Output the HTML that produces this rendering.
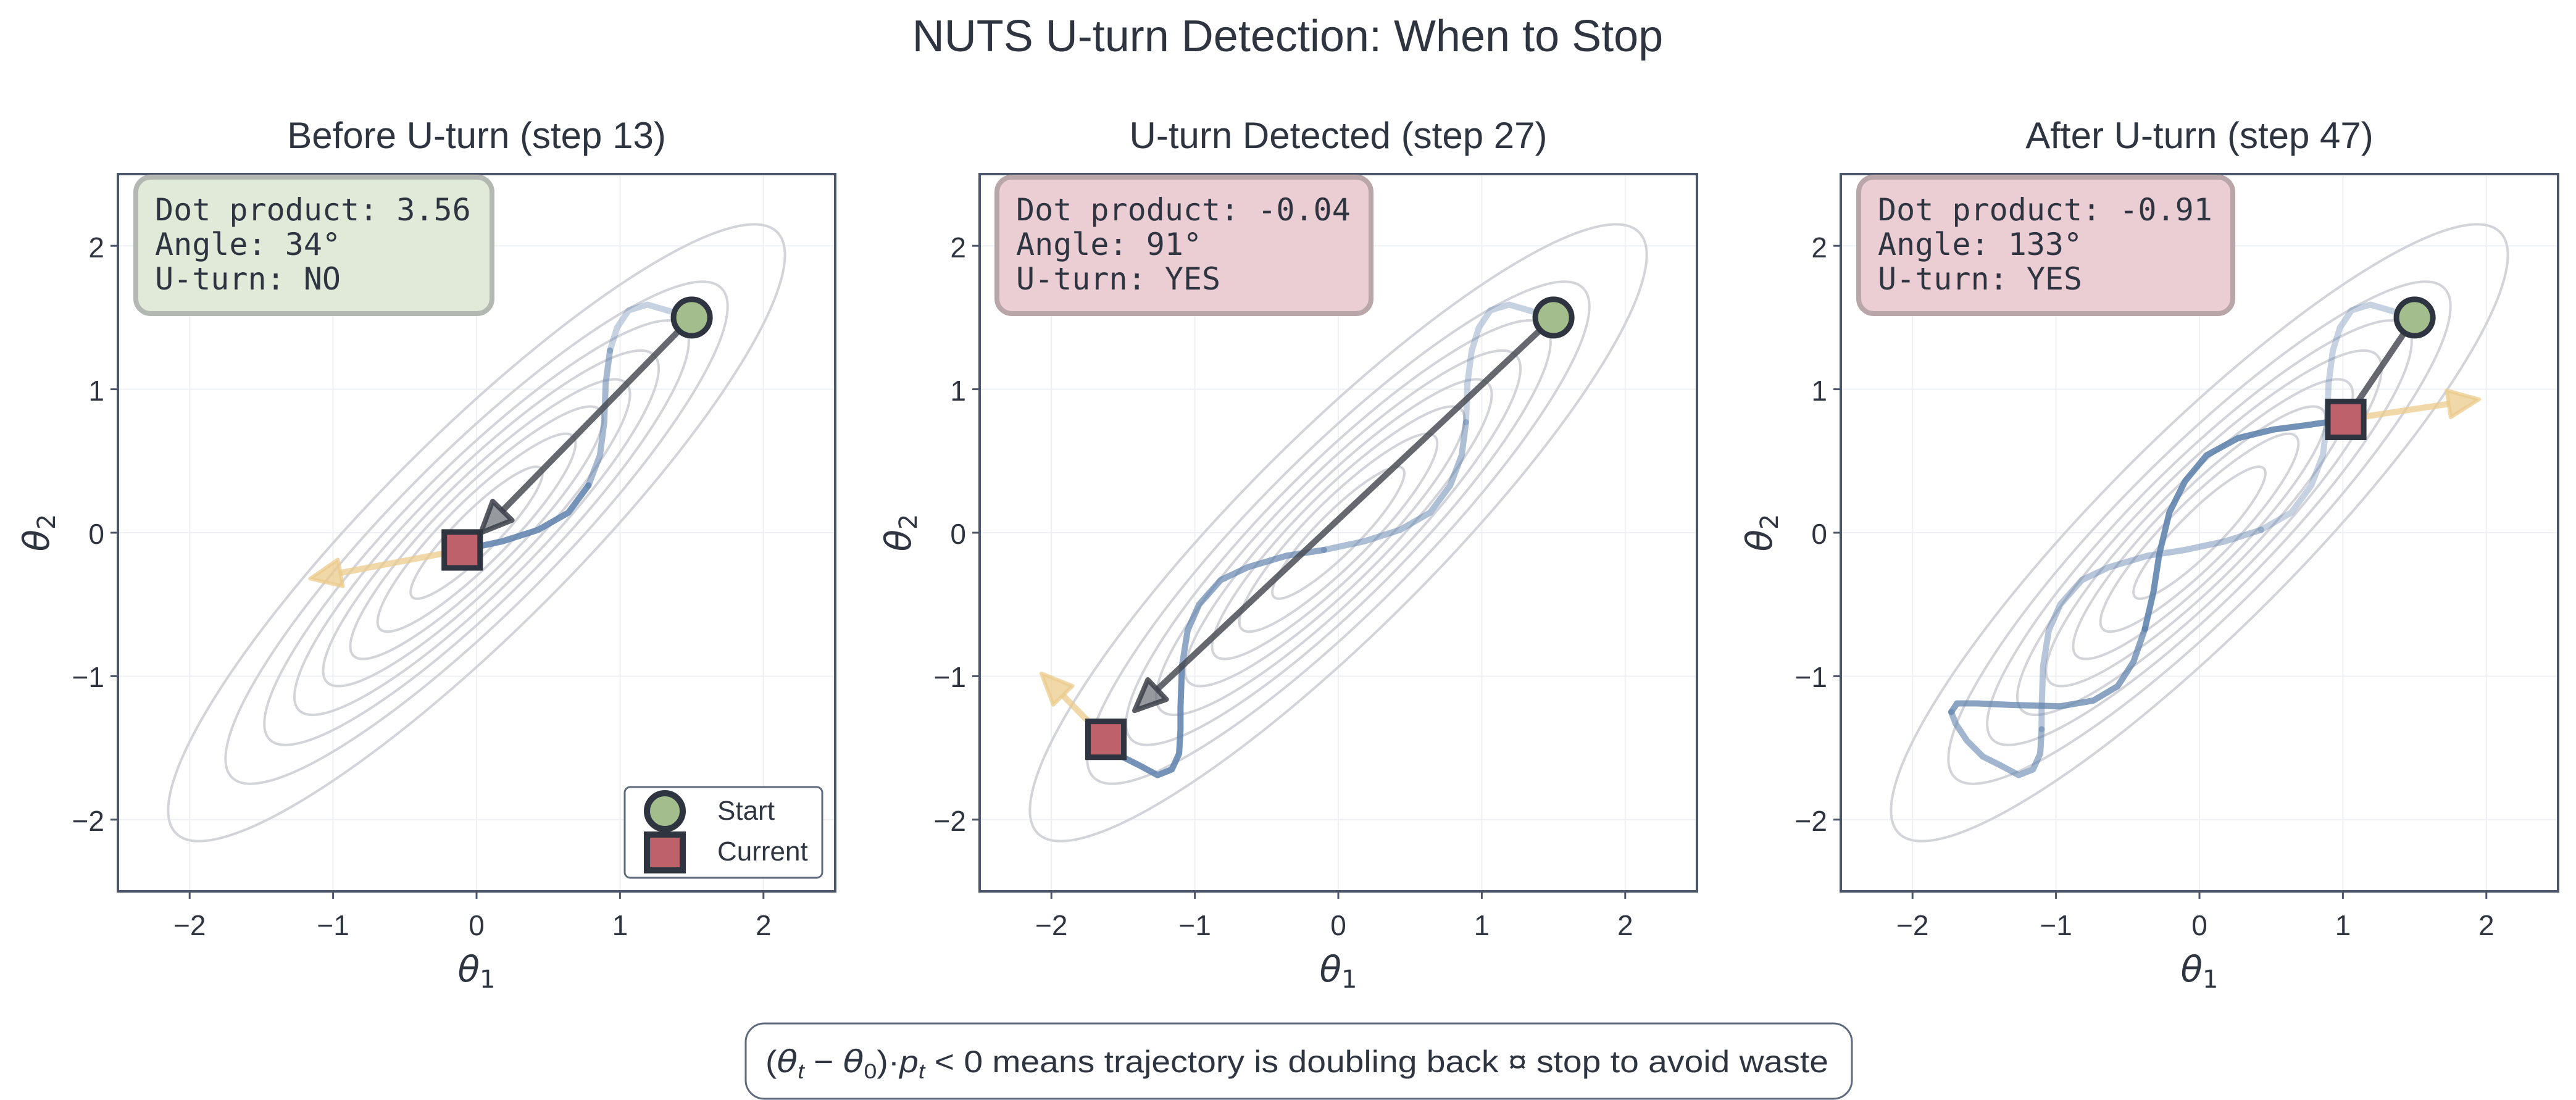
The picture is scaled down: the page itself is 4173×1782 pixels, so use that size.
<!DOCTYPE html>
<html><head><meta charset="utf-8"><style>
html,body{margin:0;padding:0;background:#fff;}
svg{display:block;}
text{font-family:"Liberation Sans","DejaVu Sans",sans-serif;fill:#2e3440;}
.mono{font-family:"DejaVu Sans Mono","Liberation Mono",monospace;font-size:50px;}
.tk{font-size:46px;}
.math{font-family:"DejaVu Sans",sans-serif;font-style:italic;font-size:58px;}
.ns{vector-effect:non-scaling-stroke;}
</style></head><body>
<svg width="4173" height="1782" viewBox="0 0 4173 1782" xmlns="http://www.w3.org/2000/svg">
<defs>
<g id="contours" fill="none" stroke="#d2d4da" stroke-width="4">
<ellipse class="ns" cx="0" cy="0" rx="0.634" ry="0.145" transform="rotate(45)"/>
<ellipse class="ns" cx="0" cy="0" rx="0.951" ry="0.218" transform="rotate(45)"/>
<ellipse class="ns" cx="0" cy="0" rx="1.213" ry="0.278" transform="rotate(45)"/>
<ellipse class="ns" cx="0" cy="0" rx="1.474" ry="0.338" transform="rotate(45)"/>
<ellipse class="ns" cx="0" cy="0" rx="1.750" ry="0.401" transform="rotate(45)"/>
<ellipse class="ns" cx="0" cy="0" rx="2.039" ry="0.468" transform="rotate(45)"/>
<ellipse class="ns" cx="0" cy="0" rx="2.412" ry="0.553" transform="rotate(45)"/>
<ellipse class="ns" cx="0" cy="0" rx="2.963" ry="0.679" transform="rotate(45)"/>
</g>
<g id="grid" stroke="#eef0f3" stroke-width="2">
<line class="ns" x1="-2" y1="-2.5" x2="-2" y2="2.5"/><line class="ns" x1="-1" y1="-2.5" x2="-1" y2="2.5"/>
<line class="ns" x1="0" y1="-2.5" x2="0" y2="2.5"/><line class="ns" x1="1" y1="-2.5" x2="1" y2="2.5"/>
<line class="ns" x1="2" y1="-2.5" x2="2" y2="2.5"/>
<line class="ns" y1="-2" x1="-2.5" y2="-2" x2="2.5"/><line class="ns" y1="-1" x1="-2.5" y2="-1" x2="2.5"/>
<line class="ns" y1="0" x1="-2.5" y2="0" x2="2.5"/><line class="ns" y1="1" x1="-2.5" y2="1" x2="2.5"/>
<line class="ns" y1="2" x1="-2.5" y2="2" x2="2.5"/>
</g>
<g id="ticks" stroke="#4c566a" stroke-width="3">
<line x1="-581" y1="-464.8" x2="-593" y2="-464.8"/><line x1="-581" y1="-232.4" x2="-593" y2="-232.4"/>
<line x1="-581" y1="0" x2="-593" y2="0"/><line x1="-581" y1="232.4" x2="-593" y2="232.4"/>
<line x1="-581" y1="464.8" x2="-593" y2="464.8"/>
<line x1="-464.8" y1="581" x2="-464.8" y2="593"/><line x1="-232.4" y1="581" x2="-232.4" y2="593"/>
<line x1="0" y1="581" x2="0" y2="593"/><line x1="232.4" y1="581" x2="232.4" y2="593"/>
<line x1="464.8" y1="581" x2="464.8" y2="593"/>
</g>
<g id="ticklabels">
<text class="tk" x="-603" y="-446" text-anchor="end">2</text>
<text class="tk" x="-603" y="-214" text-anchor="end">1</text>
<text class="tk" x="-603" y="18" text-anchor="end">0</text>
<text class="tk" x="-603" y="250" text-anchor="end">−1</text>
<text class="tk" x="-603" y="483" text-anchor="end">−2</text>
<text class="tk" x="-464.8" y="652" text-anchor="middle">−2</text>
<text class="tk" x="-232.4" y="652" text-anchor="middle">−1</text>
<text class="tk" x="0" y="652" text-anchor="middle">0</text>
<text class="tk" x="232.4" y="652" text-anchor="middle">1</text>
<text class="tk" x="464.8" y="652" text-anchor="middle">2</text>
<text class="math" x="0" y="727" text-anchor="middle">θ<tspan font-size="40" dy="10" font-style="normal">1</tspan></text>
<text class="math" transform="translate(-693,0) rotate(-90)" x="0" y="0" text-anchor="middle">θ<tspan font-size="40" dy="10" font-style="normal">2</tspan></text>
</g>
</defs>

<text x="2086" y="83" text-anchor="middle" font-size="72">NUTS U-turn Detection: When to Stop</text>

<!-- Panel 1 -->
<text x="772" y="240" text-anchor="middle" font-size="60">Before U-turn (step 13)</text>
<g transform="translate(772,863)">
 <use href="#ticks"/><use href="#ticklabels"/>
 <g transform="scale(232.4,-232.4)">
  <use href="#grid"/><use href="#contours"/>
  <g fill="none" stroke="#5e81ac" stroke-width="10" stroke-linejoin="round" stroke-linecap="round">
   <polyline class="ns" opacity="0.35" points="1.5,1.5 1.19,1.59 1.06,1.55 0.98,1.43 0.93,1.27"/>
   <polyline class="ns" opacity="0.55" points="0.93,1.27 0.90,1.04 0.89,0.77 0.86,0.54 0.78,0.33"/>
   <polyline class="ns" opacity="0.85" points="0.78,0.33 0.64,0.14 0.43,0.02 0.18,-0.06 -0.1,-0.12"/>
  </g>
  <line class="ns" x1="1.5" y1="1.5" x2="0.180" y2="0.1535" stroke="#4a4d55" stroke-opacity="0.85" stroke-width="10"/>
  <polygon class="ns" points="0.03,0 0.248,0.087 0.112,0.220" fill="#6a6d75" fill-opacity="0.7" stroke="#3b3e46" stroke-opacity="0.85" stroke-width="8" stroke-linejoin="round"/>
  <line class="ns" x1="-0.1" y1="-0.12" x2="-0.949" y2="-0.280" stroke="#ebcb8b" stroke-opacity="0.75" stroke-width="10"/>
  <polygon class="ns" points="-1.16,-0.32 -0.967,-0.187 -0.931,-0.373" fill="#ebcb8b" fill-opacity="0.75" stroke="#ebcb8b" stroke-opacity="0.75" stroke-width="6" stroke-linejoin="round"/>
  <circle class="ns" cx="1.5" cy="1.5" r="0.127" fill="#a3be8c" stroke="#2e3440" stroke-width="9"/>
  <rect class="ns" x="-0.225" y="-0.245" width="0.25" height="0.25" fill="#bf616a" stroke="#2e3440" stroke-width="9"/>
 </g>
</g>
<rect x="191" y="282" width="1162" height="1162" fill="none" stroke="#4c566a" stroke-width="4"/>
<rect x="220" y="287" width="577" height="221" rx="24" fill="#e1ead9" stroke="#b3b8b3" stroke-width="8"/>
<text class="mono" x="251" y="357">Dot product: 3.56</text>
<text class="mono" x="251" y="413">Angle: 34°</text>
<text class="mono" x="251" y="469">U-turn: NO</text>
<rect x="1012" y="1275" width="320" height="147" rx="9" fill="#fff" stroke="#5f6a7d" stroke-width="3"/>
<circle cx="1077" cy="1314" r="29" fill="#a3be8c" stroke="#2e3440" stroke-width="10"/>
<rect x="1048" y="1352" width="58" height="58" fill="#bf616a" stroke="#2e3440" stroke-width="10"/>
<text x="1162" y="1328" font-size="44">Start</text>
<text x="1162" y="1394" font-size="44">Current</text>

<!-- Panel 2 -->
<text x="2168" y="240" text-anchor="middle" font-size="60">U-turn Detected (step 27)</text>
<g transform="translate(2168,863)">
 <use href="#ticks"/><use href="#ticklabels"/>
 <g transform="scale(232.4,-232.4)">
  <use href="#grid"/><use href="#contours"/>
  <g fill="none" stroke="#5e81ac" stroke-width="10" stroke-linejoin="round" stroke-linecap="round">
   <polyline class="ns" opacity="0.35" points="1.5,1.5 1.19,1.59 1.06,1.55 0.98,1.43 0.93,1.27 0.90,1.04 0.89,0.77"/>
   <polyline class="ns" opacity="0.5" points="0.89,0.77 0.86,0.54 0.78,0.33 0.64,0.14 0.43,0.02 0.18,-0.06 -0.1,-0.12"/>
   <polyline class="ns" opacity="0.68" points="-0.1,-0.12 -0.36,-0.16 -0.63,-0.24 -0.82,-0.33 -0.97,-0.50 -1.05,-0.68 -1.09,-0.93"/>
   <polyline class="ns" opacity="0.85" points="-1.09,-0.93 -1.10,-1.22 -1.10,-1.37 -1.11,-1.54 -1.16,-1.65 -1.26,-1.69 -1.39,-1.62 -1.51,-1.56 -1.62,-1.45"/>
  </g>
  <line class="ns" x1="1.5" y1="1.5" x2="-1.263" y2="-1.093" stroke="#4a4d55" stroke-opacity="0.85" stroke-width="10"/>
  <polygon class="ns" points="-1.42,-1.24 -1.198,-1.162 -1.328,-1.024" fill="#6a6d75" fill-opacity="0.7" stroke="#3b3e46" stroke-opacity="0.85" stroke-width="8" stroke-linejoin="round"/>
  <line class="ns" x1="-1.62" y1="-1.44" x2="-1.920" y2="-1.134" stroke="#ebcb8b" stroke-opacity="0.75" stroke-width="10"/>
  <polygon class="ns" points="-2.07,-0.98 -1.852,-1.068 -1.988,-1.200" fill="#ebcb8b" fill-opacity="0.75" stroke="#ebcb8b" stroke-opacity="0.75" stroke-width="6" stroke-linejoin="round"/>
  <circle class="ns" cx="1.5" cy="1.5" r="0.127" fill="#a3be8c" stroke="#2e3440" stroke-width="9"/>
  <rect class="ns" x="-1.745" y="-1.565" width="0.25" height="0.25" fill="#bf616a" stroke="#2e3440" stroke-width="9"/>
 </g>
</g>
<rect x="1587" y="282" width="1162" height="1162" fill="none" stroke="#4c566a" stroke-width="4"/>
<rect x="1615" y="287" width="606" height="221" rx="24" fill="#ebced3" stroke="#b9a6a9" stroke-width="8"/>
<text class="mono" x="1646" y="357">Dot product: -0.04</text>
<text class="mono" x="1646" y="413">Angle: 91°</text>
<text class="mono" x="1646" y="469">U-turn: YES</text>

<!-- Panel 3 -->
<text x="3563" y="240" text-anchor="middle" font-size="60">After U-turn (step 47)</text>
<g transform="translate(3563,863)">
 <use href="#ticks"/><use href="#ticklabels"/>
 <g transform="scale(232.4,-232.4)">
  <use href="#grid"/><use href="#contours"/>
  <g fill="none" stroke="#5e81ac" stroke-width="10" stroke-linejoin="round" stroke-linecap="round">
   <polyline class="ns" opacity="0.35" points="1.5,1.5 1.19,1.59 1.06,1.55 0.98,1.43 0.93,1.27 0.90,1.04 0.89,0.77 0.86,0.54 0.78,0.33 0.64,0.14 0.43,0.02"/>
   <polyline class="ns" opacity="0.45" points="0.43,0.02 0.18,-0.06 -0.1,-0.12 -0.36,-0.16 -0.63,-0.24 -0.82,-0.33 -0.97,-0.50 -1.05,-0.68 -1.09,-0.93 -1.10,-1.22 -1.10,-1.37"/>
   <polyline class="ns" opacity="0.58" points="-1.10,-1.37 -1.11,-1.54 -1.16,-1.65 -1.26,-1.69 -1.39,-1.62 -1.51,-1.56 -1.62,-1.45 -1.70,-1.33 -1.73,-1.25"/>
   <polyline class="ns" opacity="0.72" points="-1.73,-1.25 -1.69,-1.19 -1.55,-1.19 -1.32,-1.20 -0.97,-1.21 -0.74,-1.17 -0.57,-1.07 -0.46,-0.90 -0.38,-0.67"/>
   <polyline class="ns" opacity="0.87" points="-0.38,-0.67 -0.32,-0.41 -0.28,-0.15 -0.21,0.14 -0.10,0.36 0.05,0.54 0.27,0.66 0.52,0.72 0.75,0.75 1.02,0.79"/>
  </g>
  <line class="ns" x1="1.5" y1="1.5" x2="1.02" y2="0.79" stroke="#4a4d55" stroke-opacity="0.85" stroke-width="10"/>
  <line class="ns" x1="1.02" y1="0.79" x2="1.737" y2="0.898" stroke="#ebcb8b" stroke-opacity="0.75" stroke-width="10"/>
  <polygon class="ns" points="1.95,0.93 1.723,0.992 1.751,0.804" fill="#ebcb8b" fill-opacity="0.75" stroke="#ebcb8b" stroke-opacity="0.75" stroke-width="6" stroke-linejoin="round"/>
  <circle class="ns" cx="1.5" cy="1.5" r="0.127" fill="#a3be8c" stroke="#2e3440" stroke-width="9"/>
  <rect class="ns" x="0.895" y="0.665" width="0.25" height="0.25" fill="#bf616a" stroke="#2e3440" stroke-width="9"/>
 </g>
</g>
<rect x="2982" y="282" width="1162" height="1162" fill="none" stroke="#4c566a" stroke-width="4"/>
<rect x="3011" y="287" width="606" height="221" rx="24" fill="#ebced3" stroke="#b9a6a9" stroke-width="8"/>
<text class="mono" x="3042" y="357">Dot product: -0.91</text>
<text class="mono" x="3042" y="413">Angle: 133°</text>
<text class="mono" x="3042" y="469">U-turn: YES</text>

<!-- Bottom note -->
<rect x="1208" y="1658" width="1792" height="122" rx="30" fill="#fff" stroke="#5f6a7d" stroke-width="3"/>
<text x="1240" y="1737" font-size="50" textLength="1722" lengthAdjust="spacingAndGlyphs">(<tspan font-family="DejaVu Sans" font-style="italic">θ</tspan><tspan font-size="34" dy="10" font-style="italic">t</tspan><tspan dy="-10"> − </tspan><tspan font-family="DejaVu Sans" font-style="italic">θ</tspan><tspan font-size="34" dy="10">0</tspan><tspan dy="-10">)·</tspan><tspan font-style="italic">p</tspan><tspan font-size="34" dy="10" font-style="italic">t</tspan><tspan dy="-10"> &lt; 0 means trajectory is doubling back ¤ stop to avoid waste</tspan></text>
</svg>
</body></html>
